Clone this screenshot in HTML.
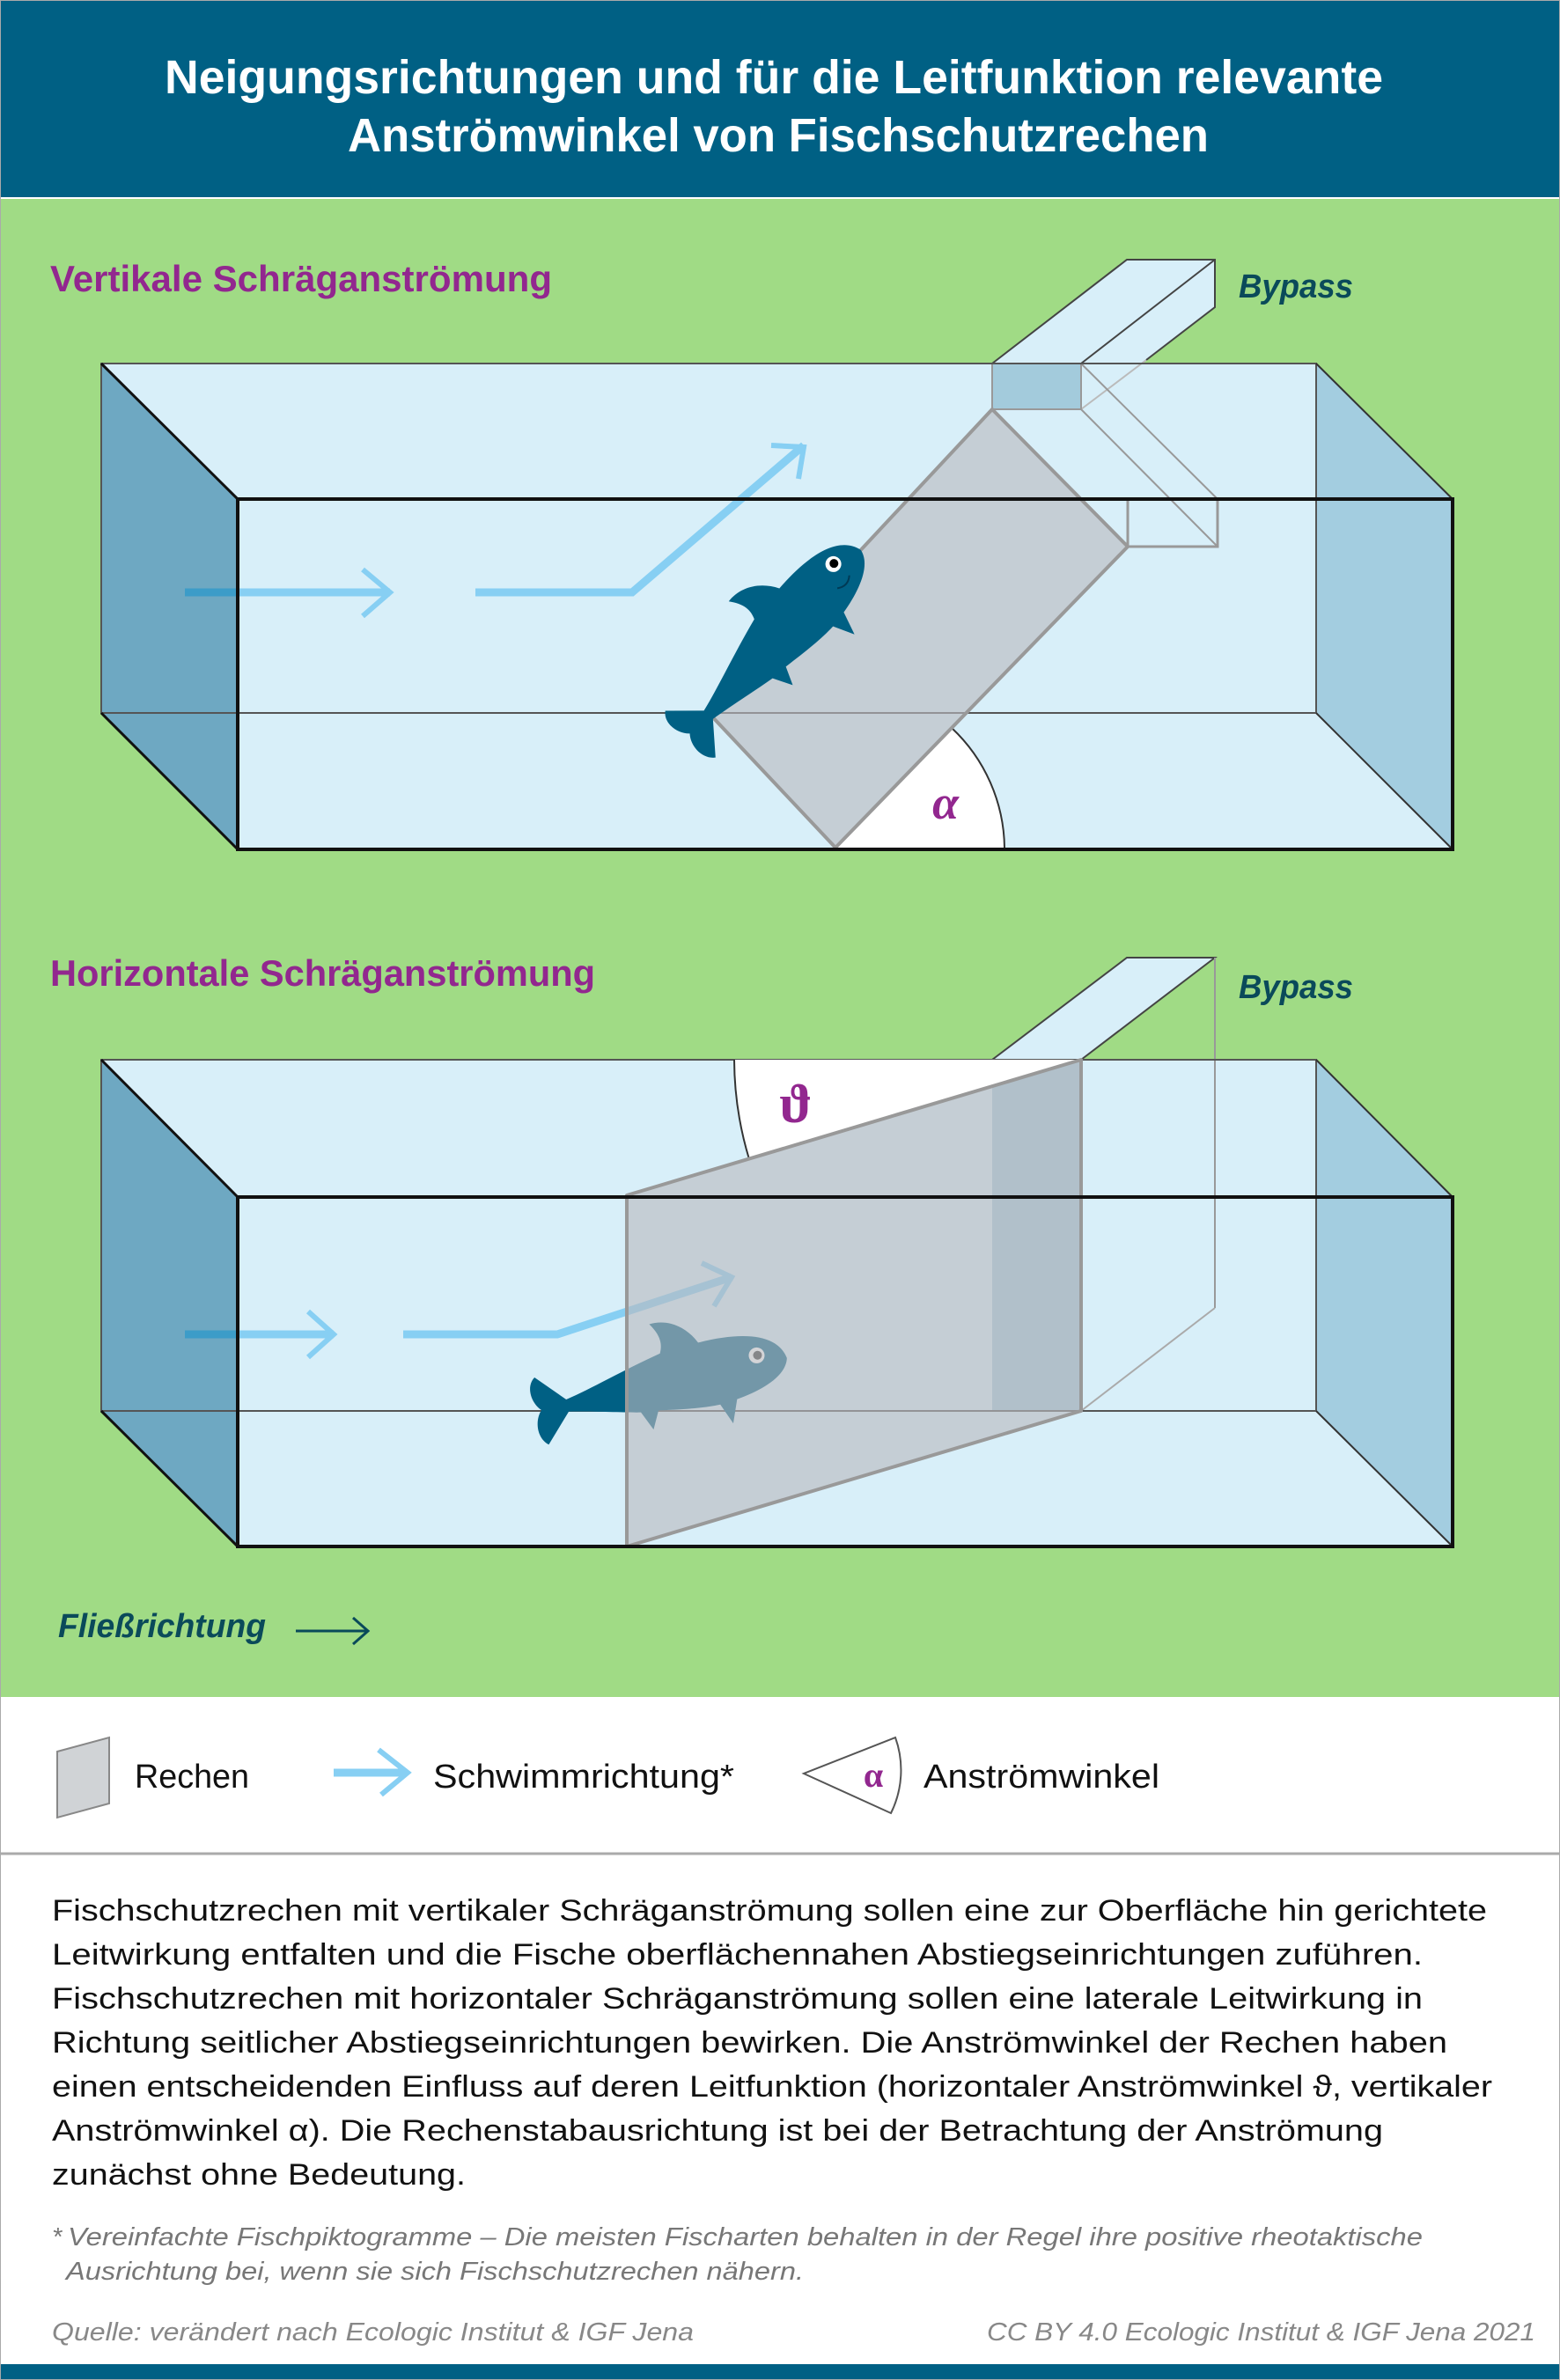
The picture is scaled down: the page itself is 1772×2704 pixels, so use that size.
<!DOCTYPE html>
<html><head><meta charset="utf-8"><style>
html,body{margin:0;padding:0;background:#fff}
svg{display:block}
text{font-family:"Liberation Sans Narrow","Liberation Sans",sans-serif}
</style></head><body>
<svg width="1772" height="2704" viewBox="0 0 1772 2704" xmlns="http://www.w3.org/2000/svg">
<defs>
<g id="fish">
<path d="M145,0 C140,-30 100,-40 50,-38 C40,-60 20,-72 0,-70 C10,-55 10,-45 5,-35 C-40,-25 -80,-12 -110,-6 L-140,-38 C-152,-30 -150,-10 -140,0 C-150,10 -152,30 -140,40 L-110,8 C-80,14 -50,22 -30,26 L-20,48 L-10,28 C20,33 40,36 60,36 L70,60 L80,34 C110,30 140,20 145,0 Z"/>
</g>
</defs>
<!-- backgrounds -->
<rect x="0" y="0" width="1772" height="2704" fill="#fff"/>
<rect x="0" y="0" width="1772" height="224" fill="#006084"/>
<rect x="0" y="226" width="1772" height="1702" fill="#a0db85"/>
<line x1="0" y1="2106" x2="1772" y2="2106" stroke="#aaa" stroke-width="3"/>
<rect x="0" y="2686" width="1772" height="18" fill="#006084"/>
<rect x="0.5" y="0.5" width="1771" height="2703" fill="none" stroke="#aaa" stroke-width="1"/>

<!-- title -->
<text x="187" y="106" font-size="54" font-weight="bold" fill="#fff" textLength="1384" lengthAdjust="spacingAndGlyphs">Neigungsrichtungen und für die Leitfunktion relevante</text>
<text x="395" y="172" font-size="54" font-weight="bold" fill="#fff" textLength="978" lengthAdjust="spacingAndGlyphs">Anströmwinkel von Fischschutzrechen</text>

<!-- ===== TOP DIAGRAM ===== -->
<text x="57" y="331" font-size="42" font-weight="bold" fill="#92278f" textLength="570" lengthAdjust="spacingAndGlyphs">Vertikale Schräganströmung</text>
<text x="1407" y="338" font-size="38" font-weight="bold" font-style="italic" fill="#0a4a5a" textLength="130" lengthAdjust="spacingAndGlyphs">Bypass</text>

<polygon points="115,413 1495,413 1650,567 1650,965 270,965 115,810" fill="#d8eff9"/>
<polygon points="115,413 270,567 270,965 115,810" fill="#6ea8c2"/>
<polygon points="1495,413 1650,567 1650,965 1495,810" fill="#a3cde0"/>
<!-- bypass -->
<polygon points="1127,413 1280,295 1380,295 1380,349 1228,465 1127,465" fill="#d8eff9"/>
<rect x="1127" y="413" width="101" height="52" fill="#a3cbdc"/>
<polyline points="1127,413 1280,295 1380,295 1380,349 1302,409" fill="none" stroke="#444" stroke-width="2"/>
<line x1="1228" y1="413" x2="1380" y2="295" stroke="#444" stroke-width="2"/>
<line x1="1302" y1="409" x2="1228" y2="465" stroke="#bbb" stroke-width="2"/>
<rect x="1127" y="413" width="101" height="52" fill="none" stroke="#999" stroke-width="2"/>
<line x1="1228" y1="413" x2="1383" y2="567" stroke="#999" stroke-width="2"/>
<line x1="1228" y1="465" x2="1383" y2="621" stroke="#999" stroke-width="2"/>
<rect x="1281" y="567" width="102" height="54" fill="none" stroke="#999" stroke-width="3"/>
<!-- back lines -->
<rect x="115" y="413" width="1380" height="397" fill="none" stroke="#555" stroke-width="2"/>
<!-- alpha sector -->
<path d="M949,963 L1141,963 A190,190 0 0 0 1081,827 Z" fill="#fff"/>
<path d="M1141,963 A190,190 0 0 0 1081,827" fill="none" stroke="#333" stroke-width="2"/>
<text x="1074" y="930" font-size="54" font-family="Liberation Serif,serif" font-style="italic" font-weight="bold" fill="#92278f" text-anchor="middle" style="font-family:'Liberation Serif',serif">α</text>
<!-- arrows top -->
<g stroke="#87cff3" stroke-width="9" fill="none" stroke-linecap="butt">
<line x1="270" y1="673" x2="443" y2="673"/>
<polyline points="412,647 443,673 412,700" stroke-width="6"/>
<polyline points="540,673 718,673 913,506"/>
<polyline points="876,506 913,508 907,544" stroke-width="6"/>
</g>
<line x1="210" y1="673" x2="270" y2="673" stroke="#3c9cc8" stroke-width="9"/>
<!-- plane -->
<polygon points="1127,465 1281,621 949,963 805,810" fill="rgba(185,185,190,0.62)" stroke="#999" stroke-width="4" stroke-linejoin="round"/>
<!-- fish top -->
<g transform="translate(879,731) rotate(-47)" fill="#006084">
<use href="#fish"/>
<circle cx="112" cy="-12" r="9" fill="#fff"/>
<circle cx="113" cy="-12" r="5" fill="#000"/>
<path d="M95,10 Q105,18 115,10" stroke="#003a55" stroke-width="2" fill="none"/>
</g>
<!-- front -->
<line x1="115" y1="413" x2="270" y2="567" stroke="#111" stroke-width="3"/>
<line x1="115" y1="810" x2="270" y2="965" stroke="#111" stroke-width="3"/>
<line x1="1495" y1="413" x2="1650" y2="567" stroke="#333" stroke-width="2"/>
<line x1="1495" y1="810" x2="1650" y2="965" stroke="#333" stroke-width="2"/>
<rect x="270" y="567" width="1380" height="398" fill="none" stroke="#111" stroke-width="4"/>

<!-- ===== BOTTOM DIAGRAM ===== -->
<text x="57" y="1120" font-size="42" font-weight="bold" fill="#92278f" textLength="619" lengthAdjust="spacingAndGlyphs">Horizontale Schräganströmung</text>
<text x="1407" y="1134" font-size="38" font-weight="bold" font-style="italic" fill="#0a4a5a" textLength="130" lengthAdjust="spacingAndGlyphs">Bypass</text>

<polygon points="115,1204 1495,1204 1650,1360 1650,1757 270,1757 115,1603" fill="#d8eff9"/>
<polygon points="115,1204 270,1360 270,1757 115,1603" fill="#6ea8c2"/>
<polygon points="1495,1204 1650,1360 1650,1757 1495,1603" fill="#a3cde0"/>
<polygon points="1127,1204 1280,1088 1380,1088 1228,1204" fill="#d8eff9"/>
<polyline points="1127,1204 1280,1088 1380,1088 1228,1204" fill="none" stroke="#444" stroke-width="2"/>
<line x1="1380" y1="1088" x2="1380" y2="1486" stroke="#999" stroke-width="2"/>
<line x1="1380" y1="1486" x2="1228" y2="1603" stroke="#aaa" stroke-width="2"/>
<rect x="1127" y="1204" width="101" height="399" fill="#a3cbdc"/>
<rect x="115" y="1204" width="1380" height="399" fill="none" stroke="#555" stroke-width="2"/>
<!-- theta sector -->
<path d="M1228,1204 L834,1204 A394,394 0 0 0 851,1317 Z" fill="#fff"/>
<path d="M834,1204 A394,394 0 0 0 851,1317" fill="none" stroke="#333" stroke-width="2"/>
<text x="904" y="1275" font-size="62" font-weight="bold" fill="#92278f" text-anchor="middle" style="font-family:'Liberation Serif','DejaVu Serif',serif">ϑ</text>
<!-- arrows bottom -->
<g stroke="#87cff3" stroke-width="9" fill="none">
<line x1="270" y1="1516" x2="379" y2="1516"/>
<polyline points="350,1490 379,1516 350,1542" stroke-width="6"/>
<polyline points="458,1516 633,1516 831,1451"/>
<polyline points="797,1435 831,1451 811,1484" stroke-width="6"/>
</g>
<line x1="210" y1="1516" x2="270" y2="1516" stroke="#3c9cc8" stroke-width="9"/>
<!-- fish bottom -->
<g transform="translate(752,1573) rotate(-12)" fill="#006084">
<use href="#fish"/>
<circle cx="112" cy="-10" r="9" fill="#fff"/>
<circle cx="113" cy="-10" r="5" fill="#333"/>
</g>
<!-- plane -->
<polygon points="712,1358 1228,1204 1228,1603 712,1757" fill="rgba(185,185,190,0.62)" stroke="#999" stroke-width="4" stroke-linejoin="round"/>
<line x1="115" y1="1204" x2="270" y2="1360" stroke="#111" stroke-width="3"/>
<line x1="115" y1="1603" x2="270" y2="1757" stroke="#111" stroke-width="3"/>
<line x1="1495" y1="1204" x2="1650" y2="1360" stroke="#333" stroke-width="2"/>
<line x1="1495" y1="1603" x2="1650" y2="1757" stroke="#333" stroke-width="2"/>
<rect x="270" y="1360" width="1380" height="397" fill="none" stroke="#111" stroke-width="4"/>

<!-- Fliessrichtung -->
<text x="66" y="1860" font-size="38" font-weight="bold" font-style="italic" fill="#0a4a5a" textLength="236" lengthAdjust="spacingAndGlyphs">Fließrichtung</text>
<line x1="336" y1="1853" x2="418" y2="1853" stroke="#0a4a5a" stroke-width="3"/>
<polyline points="401,1838 418,1853 401,1868" fill="none" stroke="#0a4a5a" stroke-width="3"/>

<!-- legend -->
<polygon points="65,1990 124,1974 124,2049 65,2065" fill="#d0d3d6" stroke="#888" stroke-width="2"/>
<text x="153" y="2031" font-size="38" fill="#111" textLength="130" lengthAdjust="spacingAndGlyphs">Rechen</text>
<line x1="379" y1="2014" x2="460" y2="2014" stroke="#87cff3" stroke-width="9"/>
<polyline points="430,1988 463,2014 433,2039" fill="none" stroke="#87cff3" stroke-width="6"/>
<text x="492" y="2031" font-size="38" fill="#111" textLength="342" lengthAdjust="spacingAndGlyphs">Schwimmrichtung*</text>
<path d="M1017,1974 L913,2015 L1012,2060 A110,110 0 0 0 1017,1974 Z" fill="#fff" stroke="#555" stroke-width="2"/>
<text x="992" y="2030" font-size="40" font-weight="bold" fill="#92278f" text-anchor="middle" style="font-family:'Liberation Serif',serif">α</text>
<text x="1049" y="2031" font-size="38" fill="#111" textLength="268" lengthAdjust="spacingAndGlyphs">Anströmwinkel</text>

<!-- paragraph -->
<g font-size="34" fill="#111">
<text x="59" y="2182" textLength="1630" lengthAdjust="spacingAndGlyphs">Fischschutzrechen mit vertikaler Schräganströmung sollen eine zur Oberfläche hin gerichtete</text>
<text x="59" y="2232" textLength="1557" lengthAdjust="spacingAndGlyphs">Leitwirkung entfalten und die Fische oberflächennahen Abstiegseinrichtungen zuführen.</text>
<text x="59" y="2282" textLength="1557" lengthAdjust="spacingAndGlyphs">Fischschutzrechen mit horizontaler Schräganströmung sollen eine laterale Leitwirkung in</text>
<text x="59" y="2332" textLength="1585" lengthAdjust="spacingAndGlyphs">Richtung seitlicher Abstiegseinrichtungen bewirken. Die Anströmwinkel der Rechen haben</text>
<text x="59" y="2382" textLength="1636" lengthAdjust="spacingAndGlyphs">einen entscheidenden Einfluss auf deren Leitfunktion (horizontaler Anströmwinkel ϑ, vertikaler</text>
<text x="59" y="2432" textLength="1512" lengthAdjust="spacingAndGlyphs">Anströmwinkel α). Die Rechenstabausrichtung ist bei der Betrachtung der Anströmung</text>
<text x="59" y="2482" textLength="470" lengthAdjust="spacingAndGlyphs">zunächst ohne Bedeutung.</text>
</g>
<g font-size="29" font-style="italic" fill="#777">
<text x="59" y="2551">*</text>
<text x="77" y="2551" textLength="1539" lengthAdjust="spacingAndGlyphs">Vereinfachte Fischpiktogramme – Die meisten Fischarten behalten in der Regel ihre positive rheotaktische</text>
<text x="75" y="2590" textLength="838" lengthAdjust="spacingAndGlyphs">Ausrichtung bei, wenn sie sich Fischschutzrechen nähern.</text>
<text x="59" y="2659" fill="#888" textLength="729" lengthAdjust="spacingAndGlyphs">Quelle: verändert nach Ecologic Institut &amp; IGF Jena</text>
<text x="1121" y="2659" fill="#888" textLength="623" lengthAdjust="spacingAndGlyphs">CC BY 4.0  Ecologic Institut &amp; IGF Jena 2021</text>
</g>
</svg>
</body></html>
